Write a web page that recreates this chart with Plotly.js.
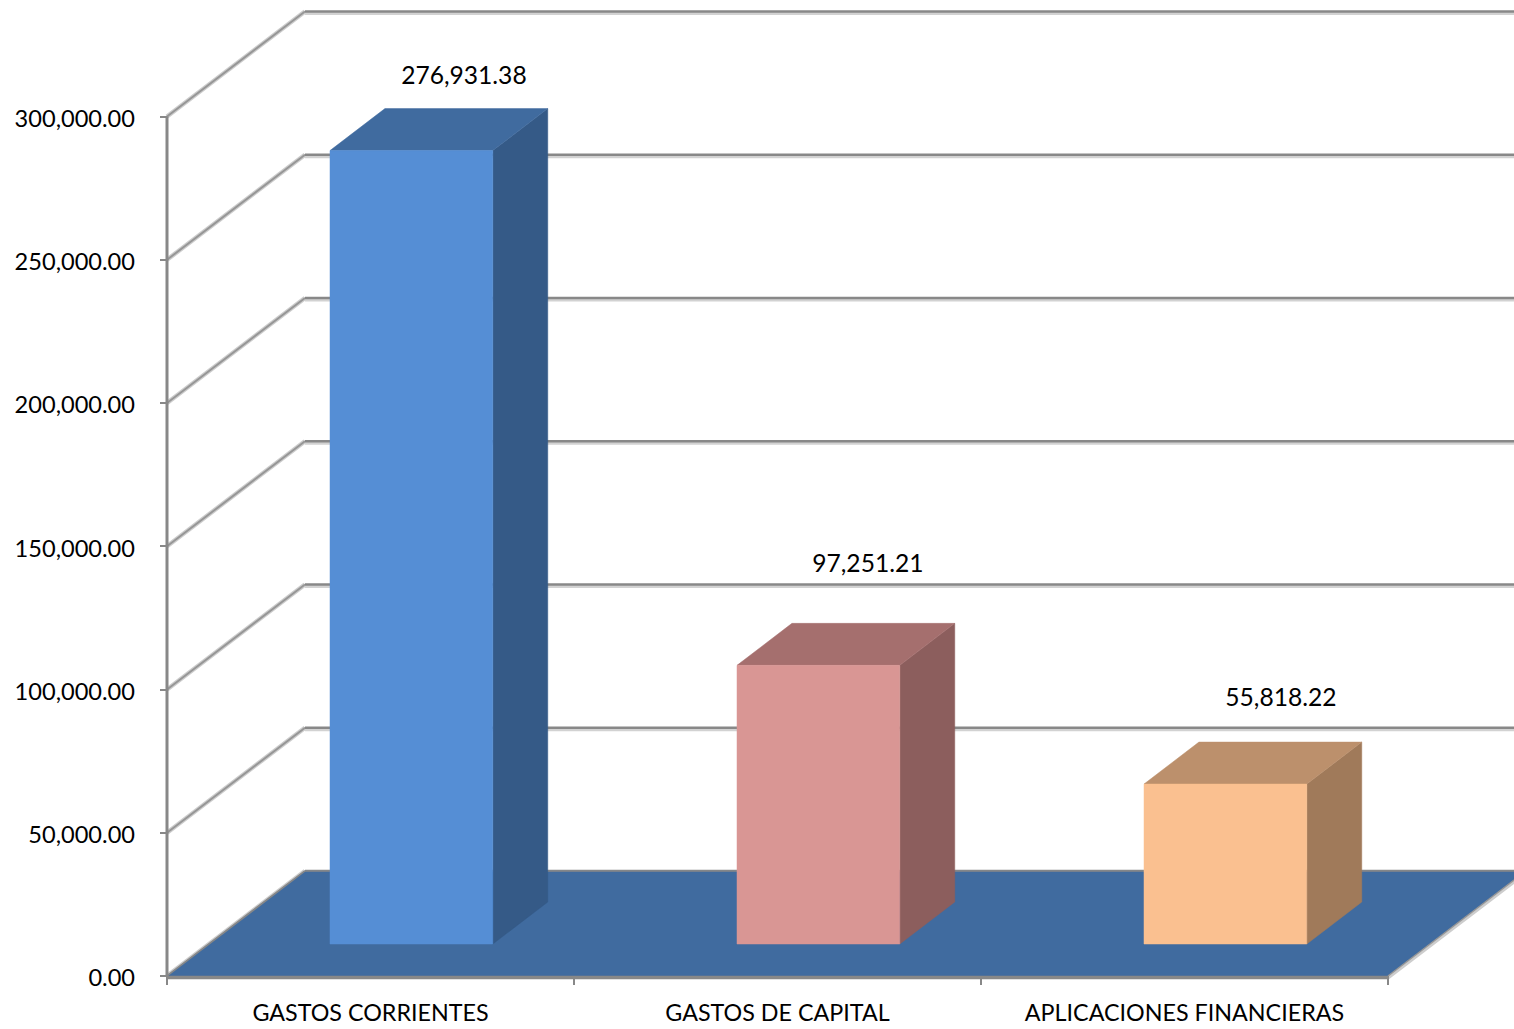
<!DOCTYPE html>
<html><head><meta charset="utf-8">
<script src="https://cdn.plot.ly/plotly-3.0.1.min.js"></script>
<style>html,body{margin:0;padding:0;background:#fff;overflow:hidden}#chart{width:1514px;height:1029px}</style>
</head><body><div id="chart"></div>
<script>
// Data
const categories = ["GASTOS CORRIENTES", "GASTOS DE CAPITAL", "APLICACIONES FINANCIERAS"];
const values = [276931.38, 97251.21, 55818.22];
const valueTicks = [0, 50000, 100000, 150000, 200000, 250000, 300000];
const labelLift = [36500, 45850, 40500];
const labelShift = [0.129, 0.1216, 0.1364];

// Colours
const frontColors = ["#558ed5", "#d99694", "#fac090"];
const topColors = ["#406b9f", "#a56f6e", "#bc906c"];
const sideColors = ["#355a87", "#8c5e5d", "#a07a5a"];
const floorColor = "#406b9f";
const gridColor = "#888888";
const gridShadow = "#d2d2d2";
const FONT = "Lato, Carlito, Calibri, sans-serif";

// Pseudo-3D projection, in axis units
const wallDx = 0.339, wallDy = 36650;      // depth of the chart box
const barStart = 0.4005, barWidth = 0.4;   // bar front face within a category
const barBase = 11170;                     // lift of the bar front from the axis plane
const barDy = 14660, barDx = 0.135;        // depth of a bar
const shadowDy = 700;
const n = categories.length;
const xStart = -7 / 407, xEnd = 1347 / 407;
const yStart = -9 / 0.002865, yEnd = 976 / 0.002865;

function line(x, y, color, width) {
  return {x, y, mode: "lines", line: {color, width}, hoverinfo: "skip", showlegend: false};
}
function poly(x, y, color) {
  return {x, y, mode: "lines", fill: "toself", fillcolor: color,
    line: {color, width: 0.5}, hoverinfo: "skip", showlegend: false};
}

const traces = [];
// Wall and side gridlines
valueTicks.forEach(v => {
  traces.push(line([0, wallDx], [v, v + wallDy], "#cdcdcd", 4.5));
  traces.push(line([0, wallDx], [v, v + wallDy], "#969696", 2));
  traces.push(line([wallDx, xEnd + wallDx], [v + wallDy - shadowDy, v + wallDy - shadowDy], gridShadow, 3));
  traces.push(line([wallDx, xEnd + wallDx], [v + wallDy, v + wallDy], gridColor, 2.5));
});
// Floor
traces.push(poly([0, n, n + wallDx, wallDx, 0], [0, 0, wallDy, wallDy, 0], floorColor));
traces.push(line([wallDx, n + wallDx], [wallDy, wallDy], gridColor, 1.5));
traces.push(line([0, wallDx], [0, wallDy], gridColor, 1.5));
traces.push(line([n, n + wallDx], [-shadowDy, wallDy - shadowDy], "#cdcdcd", 3));
traces.push(line([n, n + wallDx], [0, wallDy], "#969696", 1.5));
// Axis lines
traces.push(line([0, 0], [0, valueTicks[valueTicks.length - 1]], gridColor, 3));
traces.push(line([0, n], [-500, -500], gridColor, 3.5));
// Bars
values.forEach((v, i) => {
  const x0 = i + barStart, x1 = x0 + barWidth, top = barBase + v;
  traces.push(poly([x1, x1 + barDx, x1 + barDx, x1, x1],
                   [barBase, barBase + barDy, top + barDy, top, barBase], sideColors[i]));
  traces.push(poly([x0, x0 + barDx, x1 + barDx, x1, x0],
                   [top, top + barDy, top + barDy, top, top], topColors[i]));
  traces.push(poly([x0, x1, x1, x0, x0], [barBase, barBase, top, top, barBase], frontColors[i]));
});
// Value labels
traces.push({
  x: values.map((v, i) => i + barStart + barWidth / 2 + labelShift[i]),
  y: values.map((v, i) => v + labelLift[i]),
  text: values.map(v => v.toLocaleString("en-US", {minimumFractionDigits: 2, maximumFractionDigits: 2})),
  mode: "text", textposition: "middle center",
  textfont: {family: FONT, size: 24.6, color: "#000"}, hoverinfo: "skip", showlegend: false
});

const layout = {
  width: 1514, height: 1029,
  margin: {l: 160, r: 0, t: 0, b: 44, pad: 0, autoexpand: false},
  paper_bgcolor: "#fff", plot_bgcolor: "#fff", showlegend: false,
  xaxis: {
    type: "linear", range: [xStart, xEnd], showgrid: false, zeroline: false, showline: false,
    tickmode: "array", tickvals: categories.map((c, i) => i + 0.5), ticktext: categories,
    ticks: "", ticklabelstandoff: 12, tickangle: 0,
    tickfont: {family: FONT, size: 23.3, color: "#000"},
    minor: {tickmode: "array", tickvals: [0, 1, 2, 3], ticks: "inside", ticklen: 9, tickwidth: 1.5, tickcolor: gridColor, showgrid: false}
  },
  yaxis: {
    range: [yStart, yEnd], showgrid: false, zeroline: false, showline: false,
    tickmode: "array", tickvals: valueTicks, tickformat: ",.2f",
    ticks: "inside", ticklen: 7, tickwidth: 1.5, tickcolor: gridColor, ticklabelstandoff: 24, ticklabelshift: 2,
    tickfont: {family: FONT, size: 23.6, color: "#000"}
  }
};
Plotly.newPlot("chart", traces, layout, {displayModeBar: false, responsive: false});
</script></body></html>
